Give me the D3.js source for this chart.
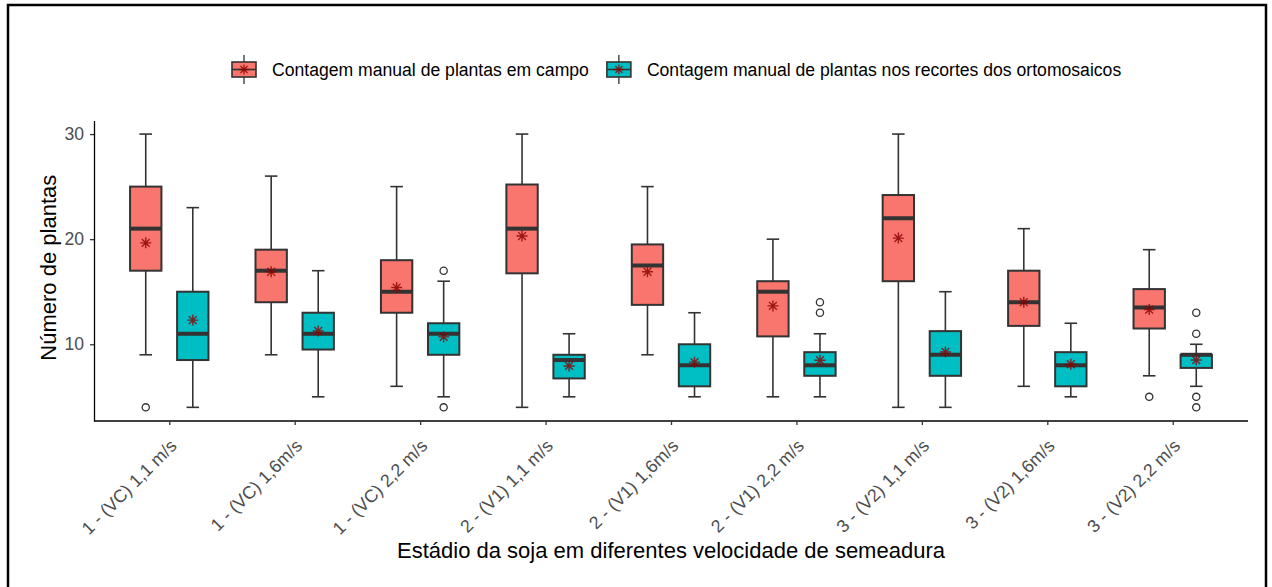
<!DOCTYPE html>
<html>
<head>
<meta charset="utf-8">
<script src="https://cdn.jsdelivr.net/npm/d3@7"></script>
<style>
  html, body { margin: 0; padding: 0; background: #fff; }
  svg { display: block; font-family: "Liberation Sans", Arial, sans-serif; }
</style>
</head>
<body>
<svg id="chart" width="1272" height="587"></svg>
<script>
// Treatment categories (stage + sowing speed)
const categories = [
  "1 - (VC) 1,1 m/s", "1 - (VC) 1,6m/s", "1 - (VC) 2,2 m/s",
  "2 - (V1) 1,1 m/s", "2 - (V1) 1,6m/s", "2 - (V1) 2,2 m/s",
  "3 - (V2) 1,1 m/s", "3 - (V2) 1,6m/s", "3 - (V2) 2,2 m/s"
];

const seriesNames = [
  "Contagem manual de plantas em campo",
  "Contagem manual de plantas nos recortes dos ortomosaicos"
];

// Box summaries per category: [lower whisker, Q1, median, Q3, upper whisker]
const campoStats = [
  [9, 17, 21, 25, 30],
  [9, 14, 17, 19, 26],
  [6, 13, 15, 18, 25],
  [4, 16.75, 21, 25.2, 30],
  [9, 13.75, 17.5, 19.5, 25],
  [5, 10.75, 15, 16, 20],
  [4, 16, 22, 24.2, 30],
  [6, 11.75, 14, 17, 21],
  [7, 11.5, 13.5, 15.25, 19]
];
const campoMeans = [19.65, 16.9, 15.4, 20.3, 16.9, 13.65, 20.1, 14.0, 13.3];
const campoOutliers = [[4], [], [], [], [], [], [], [], [5]];

const ortoStats = [
  [4, 8.5, 11, 15, 23],
  [5, 9.5, 11, 13, 17],
  [5, 9, 11, 12, 16],
  [5, 6.75, 8.5, 9, 11],
  [5, 6, 8, 10, 13],
  [5, 7, 8, 9.25, 11],
  [4, 7, 9, 11.25, 15],
  [5, 6, 8, 9.25, 12],
  [6, 7.75, 9, 9, 10]
];
const ortoMeans = [12.3, 11.27, 10.7, 7.94, 8.3, 8.48, 9.27, 8.1, 8.5];
const ortoOutliers = [[], [], [17, 4], [], [], [14, 13], [], [], [13, 11, 5, 4]];

const yTicks = [10, 20, 30];
const xTitle = "Estádio da soja em diferentes velocidade de semeadura";
const yTitle = "Número de plantas";

const fills = ["#F8766D", "#00BFC4"];
const lineCol = "#333333";
const meanCol = "#8B0000";
const textSize = "17.6px";
const xTickSize = "17.8px";

const svg = d3.select("#chart");

// outer frame
svg.append("rect")
  .attr("x", 8).attr("y", 5)
  .attr("width", 1258).attr("height", 620)
  .attr("fill", "none").attr("stroke", "#000").attr("stroke-width", 2.5);

const panel = { left: 94, right: 1248, top: 120.4, bottom: 421 };

const x = d3.scalePoint()
  .domain(categories)
  .range([panel.left, panel.right])
  .padding(0.6);
const step = x.step();

const y = d3.scaleLinear()
  .domain([2.7, 31.3])
  .range([panel.bottom, panel.top]);

const dodge = step * 0.1875;
const boxW = step * 0.25;
const capW = step * 0.1;

const series = [
  { stats: campoStats, means: campoMeans, outliers: campoOutliers, fill: fills[0], off: -dodge },
  { stats: ortoStats, means: ortoMeans, outliers: ortoOutliers, fill: fills[1], off: dodge }
];

function star(g, cx, cy, r, color, width) {
  const d = r * Math.SQRT1_2;
  const p = d3.path();
  p.moveTo(cx - r, cy); p.lineTo(cx + r, cy);
  p.moveTo(cx, cy - r); p.lineTo(cx, cy + r);
  p.moveTo(cx - d, cy - d); p.lineTo(cx + d, cy + d);
  p.moveTo(cx - d, cy + d); p.lineTo(cx + d, cy - d);
  g.append("path").attr("d", p.toString())
    .attr("stroke", color).attr("stroke-width", width)
    .attr("fill", "none").attr("stroke-opacity", 0.8);
}

const plot = svg.append("g");

series.forEach(s => {
  categories.forEach((c, i) => {
    const [lo, q1, med, q3, hi] = s.stats[i];
    const cx = x(c) + s.off;
    const g = plot.append("g");
    // whiskers
    g.append("line").attr("x1", cx).attr("x2", cx)
      .attr("y1", y(hi)).attr("y2", y(q3))
      .attr("stroke", lineCol).attr("stroke-width", 1.6);
    g.append("line").attr("x1", cx).attr("x2", cx)
      .attr("y1", y(q1)).attr("y2", y(lo))
      .attr("stroke", lineCol).attr("stroke-width", 1.6);
    // caps
    [lo, hi].forEach(v => {
      g.append("line").attr("x1", cx - capW / 2).attr("x2", cx + capW / 2)
        .attr("y1", y(v)).attr("y2", y(v))
        .attr("stroke", lineCol).attr("stroke-width", 1.6);
    });
    // box
    g.append("rect")
      .attr("x", cx - boxW / 2).attr("width", boxW)
      .attr("y", y(q3)).attr("height", y(q1) - y(q3))
      .attr("fill", s.fill).attr("stroke", lineCol).attr("stroke-width", 2);
    // median
    g.append("line").attr("x1", cx - boxW / 2).attr("x2", cx + boxW / 2)
      .attr("y1", y(med)).attr("y2", y(med))
      .attr("stroke", lineCol).attr("stroke-width", 4);
    // outliers
    s.outliers[i].forEach(v => {
      g.append("circle").attr("cx", cx).attr("cy", y(v)).attr("r", 3.6)
        .attr("fill", "#fff").attr("stroke", lineCol).attr("stroke-width", 1.3);
    });
    // mean
    star(g, cx, y(s.means[i]), 5.5, meanCol, 1.4);
  });
});

// axes
const yAxis = svg.append("g")
  .attr("transform", `translate(${panel.left},0)`)
  .call(d3.axisLeft(y).tickValues(yTicks).tickSize(4).tickPadding(6).tickSizeOuter(0));
yAxis.select(".domain").attr("stroke", "#000").attr("stroke-width", 1.3);
yAxis.selectAll(".tick line").attr("stroke", "#333").attr("stroke-width", 1.3);
yAxis.selectAll(".tick text")
  .attr("fill", "#4D4D4D").style("font-size", textSize)
  .style("font-family", "Liberation Sans, Arial, sans-serif");

const xAxis = svg.append("g")
  .attr("transform", `translate(0,${panel.bottom})`)
  .call(d3.axisBottom(x).tickSize(4).tickSizeOuter(0));
xAxis.select(".domain").attr("stroke", "#000").attr("stroke-width", 1.3)
  .attr("d", `M${panel.left},0H${panel.right}`);
xAxis.selectAll(".tick line").attr("stroke", "#333").attr("stroke-width", 1.3);
xAxis.selectAll(".tick text")
  .attr("fill", "#4D4D4D").style("font-size", xTickSize)
  .style("font-family", "Liberation Sans, Arial, sans-serif")
  .attr("text-anchor", "end")
  .attr("y", 0).attr("dy", 0)
  .attr("transform", "translate(8,26) rotate(-45)");

// axis titles
svg.append("text")
  .attr("x", (panel.left + panel.right) / 2).attr("y", 558)
  .attr("text-anchor", "middle")
  .style("font-size", "22px").attr("fill", "#000")
  .text(xTitle);

svg.append("text")
  .attr("transform", `translate(56,${(panel.top + panel.bottom) / 2 - 3}) rotate(-90)`)
  .attr("text-anchor", "middle")
  .style("font-size", "22px").attr("fill", "#000")
  .text(yTitle);

// legend
const legend = svg.append("g");
let lx = 232;
const keyW = 24, keyTop = 62, keyBot = 77;
seriesNames.forEach((name, i) => {
  const g = legend.append("g");
  const kx = lx + keyW / 2;
  g.append("line").attr("x1", kx).attr("x2", kx).attr("y1", 55).attr("y2", 84)
    .attr("stroke", lineCol).attr("stroke-width", 1.3);
  g.append("rect").attr("x", lx).attr("y", keyTop)
    .attr("width", keyW).attr("height", keyBot - keyTop)
    .attr("fill", fills[i]).attr("stroke", lineCol).attr("stroke-width", 1.6);
  g.append("line").attr("x1", lx).attr("x2", lx + keyW)
    .attr("y1", (keyTop + keyBot) / 2).attr("y2", (keyTop + keyBot) / 2)
    .attr("stroke", lineCol).attr("stroke-width", 1.6);
  star(g, kx, (keyTop + keyBot) / 2, 5, meanCol, 1.3);
  const t = g.append("text").attr("x", lx + 40).attr("y", 76)
    .style("font-size", textSize).attr("fill", "#000").text(name);
  lx = lx + 40 + t.node().getComputedTextLength() + 18;
});
</script>
</body>
</html>
